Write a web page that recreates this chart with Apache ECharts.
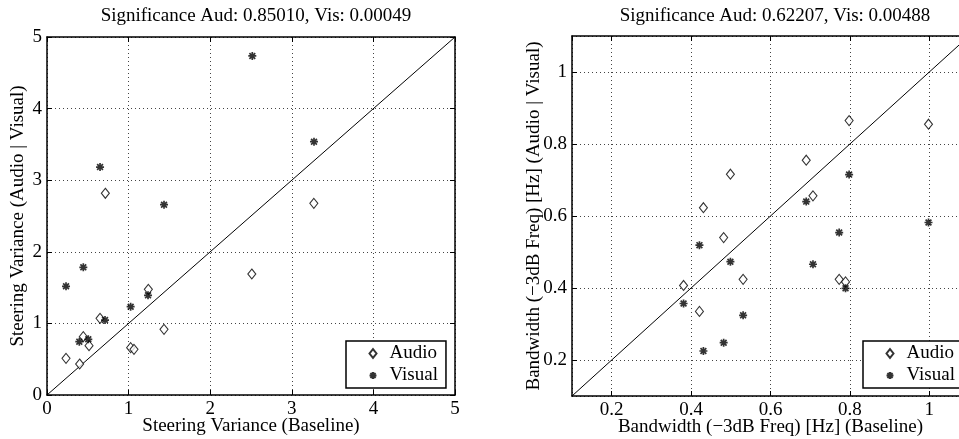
<!DOCTYPE html>
<html>
<head>
<meta charset="utf-8">
<script src="https://cdn.jsdelivr.net/npm/echarts@6/dist/echarts.min.js"></script>
<style>html,body{margin:0;padding:0;background:#fff;overflow:hidden;width:959px;height:439px;}#c{width:990px;height:439px;}</style>
</head>
<body>
<div id="c"></div>
<script>
// ---- data ----
const leftTitle = 'Significance Aud: 0.85010, Vis: 0.00049';
const rightTitle = 'Significance Aud: 0.62207, Vis: 0.00488';
const leftXName = 'Steering Variance (Baseline)';
const leftYName = 'Steering Variance (Audio | Visual)';
const rightXName = 'Bandwidth (\u22123dB Freq) [Hz] (Baseline)';
const rightYName = 'Bandwidth (\u22123dB Freq) [Hz] (Audio | Visual)';
const seriesNames = ['Audio', 'Visual'];

const leftRange = [0, 5];
const rightRange = [0.1, 1.1];

const leftAudioX  = [0.715, 3.27, 2.51, 1.242, 0.65, 0.445, 0.515, 1.434, 1.025, 1.066, 0.233, 0.40];
const leftAudioY  = [2.817, 2.677, 1.69, 1.476, 1.071, 0.815, 0.689, 0.917, 0.661, 0.638, 0.512, 0.433];
const leftVisualX = [0.65, 2.516, 3.272, 1.434, 0.445, 0.233, 1.238, 1.025, 0.711, 0.506, 0.396];
const leftVisualY = [3.184, 4.735, 3.538, 2.658, 1.783, 1.518, 1.392, 1.233, 1.047, 0.778, 0.745];

const rightAudioX  = [0.499, 0.431, 0.482, 0.798, 0.998, 0.69, 0.707, 0.381, 0.421, 0.531, 0.773, 0.789];
const rightAudioY  = [0.716, 0.623, 0.54, 0.865, 0.855, 0.755, 0.656, 0.407, 0.335, 0.424, 0.424, 0.417];
const rightVisualX = [0.798, 0.69, 0.998, 0.773, 0.421, 0.499, 0.381, 0.482, 0.431, 0.707, 0.531, 0.789];
const rightVisualY = [0.715, 0.64, 0.582, 0.554, 0.519, 0.473, 0.357, 0.248, 0.225, 0.466, 0.324, 0.399];

// ---- build ----
const FONT = 'Liberation Serif';
const zip = (a, b) => a.map((v, i) => [v, b[i]]);
const diamond = 'path://M0,-5L4,0L0,5L-4,0Z';
const star = 'path://M0,-4L0,4M-4,0L4,0M-2.9,-2.9L2.9,2.9M-2.9,2.9L2.9,-2.9';

const grids = [
  {left: 47, top: 37, width: 408, height: 358, outerBoundsMode: 'none', containLabel: false},
  {left: 572, top: 36, width: 397, height: 360, outerBoundsMode: 'none', containLabel: false}
];

function axisPair(gi, range, isX, name, nameGap, extra) {
  const main = Object.assign({
    type: 'value', gridIndex: gi, min: range[0], max: range[1],
    position: isX ? 'bottom' : 'left',
    name: name, nameLocation: 'middle', nameGap: nameGap, nameMoveOverlap: false,
    nameTextStyle: {fontFamily: FONT, fontSize: 19, color: '#000'},
    axisLine: {show: true, onZero: false, lineStyle: {color: '#000', width: 1.5}},
    axisTick: {show: true, inside: true, length: 5, lineStyle: {color: '#000'}},
    axisLabel: {show: true, fontFamily: FONT, fontSize: 19, color: '#000', margin: 5,
                showMinLabel: true, showMaxLabel: true},
    splitLine: {show: true, lineStyle: {color: '#444', type: [1, 3], width: 1}}
  }, extra || {});
  const mirror = Object.assign({
    type: 'value', gridIndex: gi, min: range[0], max: range[1],
    position: isX ? 'top' : 'right',
    axisLine: {show: true, onZero: false, lineStyle: {color: '#000', width: 1.5}},
    axisTick: {show: true, inside: true, length: 5, lineStyle: {color: '#000'}},
    axisLabel: {show: false},
    splitLine: {show: false}
  }, extra ? {interval: extra.interval, splitNumber: extra.splitNumber} : {});
  return [main, mirror];
}

const leftExtra = {interval: 1};
const rightExtra = {splitNumber: 5};
const [lx, lxm] = axisPair(0, leftRange, true, leftXName, 22, leftExtra);
const [ly, lym] = axisPair(0, leftRange, false, leftYName, 19, leftExtra);
const [rx, rxm] = axisPair(1, rightRange, true, rightXName, 22, rightExtra);
const [ry, rym] = axisPair(1, rightRange, false, rightYName, 28, rightExtra);
rx.axisLabel.showMinLabel = false; rx.axisLabel.showMaxLabel = false;
ry.axisLabel.showMinLabel = false; ry.axisLabel.showMaxLabel = false;

const audioStyle = {color: '#fff', borderColor: '#000', borderWidth: 1.1};
const visualStyle = {color: 'none', borderColor: '#000', borderWidth: 1.7};

function scatterPair(xi, yi, ax, ay, vx, vy, range) {
  return [
    {type: 'line', xAxisIndex: xi, yAxisIndex: yi, data: [[range[0], range[0]], [range[1], range[1]]],
     showSymbol: false, silent: true, lineStyle: {color: '#000', width: 1}, z: 1, legendHoverLink: false},
    {type: 'scatter', name: seriesNames[0], xAxisIndex: xi, yAxisIndex: yi, data: zip(ax, ay),
     symbol: diamond, symbolSize: [8, 10], itemStyle: audioStyle, z: 3},
    {type: 'scatter', name: seriesNames[1], xAxisIndex: xi, yAxisIndex: yi, data: zip(vx, vy),
     symbol: star, symbolSize: 8, itemStyle: visualStyle, z: 3}
  ];
}

const legendBase = {
  orient: 'vertical', itemGap: 3, itemWidth: 7, itemHeight: 9,
  padding: [3, 8, 3, 21], borderColor: '#000', borderWidth: 1.5, borderRadius: 0,
  backgroundColor: '#fff',
  textStyle: {fontFamily: FONT, fontSize: 19, color: '#000', padding: [0, 0, 0, 8]},
  selectedMode: false,
  data: [{name: seriesNames[0], icon: diamond}, {name: seriesNames[1], icon: star}]
};

const option = {
  animation: false,
  backgroundColor: '#fff',
  title: [
    {text: leftTitle, left: 251, top: 2, textAlign: 'center',
     textStyle: {fontFamily: FONT, fontSize: 19, fontWeight: 'normal', color: '#000'}},
    {text: rightTitle, left: 770, top: 2, textAlign: 'center',
     textStyle: {fontFamily: FONT, fontSize: 19, fontWeight: 'normal', color: '#000'}}
  ],
  grid: grids,
  legend: [
    Object.assign({}, legendBase, {left: 346, top: 341}),
    Object.assign({}, legendBase, {left: 863, top: 341})
  ],
  xAxis: [lx, lxm, rx, rxm],
  yAxis: [ly, lym, ry, rym],
  series: [].concat(
    scatterPair(0, 0, leftAudioX, leftAudioY, leftVisualX, leftVisualY, leftRange),
    scatterPair(2, 2, rightAudioX, rightAudioY, rightVisualX, rightVisualY, rightRange)
  )
};

const chart = echarts.init(document.getElementById('c'), null, {renderer: 'canvas'});
chart.setOption(option);
</script>
</body>
</html>
